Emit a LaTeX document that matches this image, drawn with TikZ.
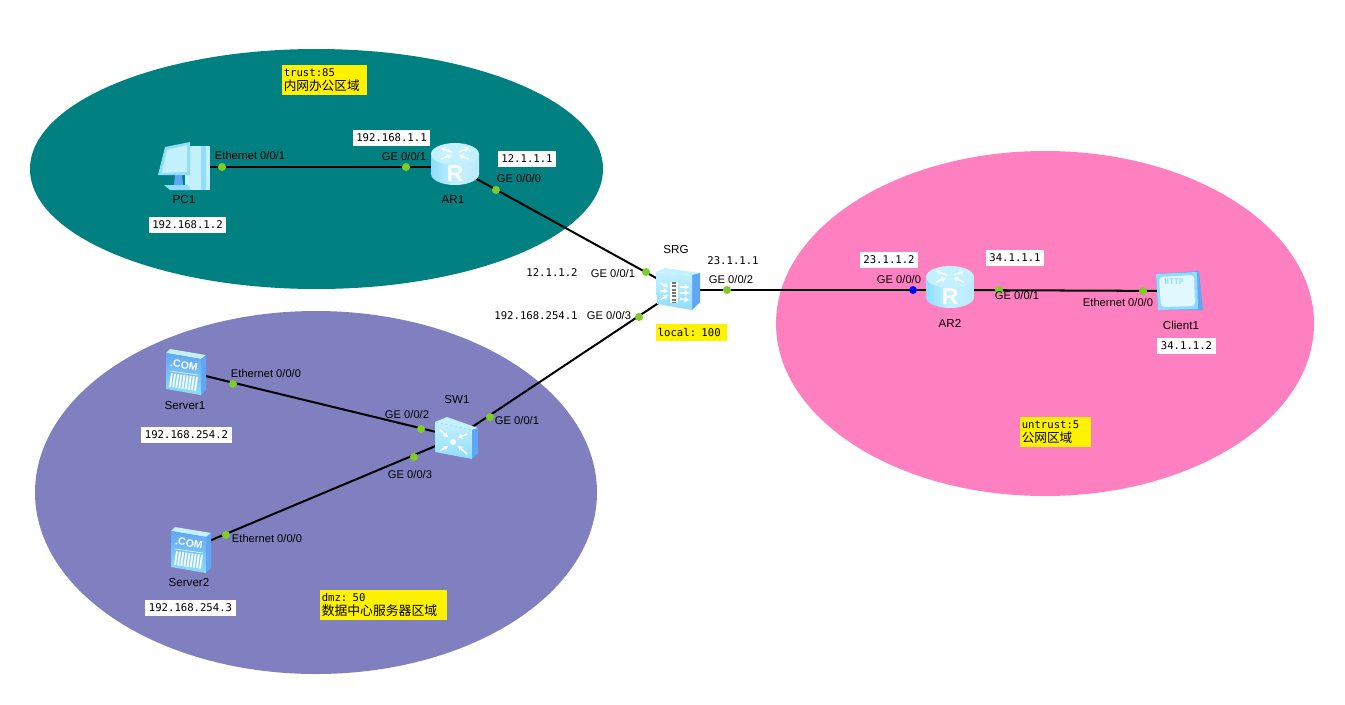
\documentclass[tikz,border=0pt]{standalone}
\usepackage{fontspec}
\setmainfont{Liberation Sans}
\newfontfamily\ipfont{DejaVu Sans Mono}
\newfontfamily\cjkfont{Noto Sans CJK SC}
\usetikzlibrary{arrows.meta}

\definecolor{zoneteal}{HTML}{008080}
\definecolor{zonepurple}{HTML}{8080C0}
\definecolor{zonepink}{HTML}{FF80C0}
\definecolor{iconlight}{HTML}{C4F1FF}
\definecolor{iconmid}{HTML}{8FDDFB}
\definecolor{iconside}{HTML}{5FA6F5}
\definecolor{portgreen}{HTML}{7FCC28}

\tikzset{
  device/.style={inner sep=0pt, minimum size=0.6cm},
  link/.style={line width=1.15pt, black},
  port/.style={circle, fill=portgreen, inner sep=0pt, minimum size=0.16cm},
  portlab/.style={font=\fontsize{6.35}{7.5}\selectfont, inner sep=0pt},
  devlab/.style={font=\fontsize{6.6}{8}\selectfont, inner sep=0pt},
  iplab/.style={font=\ipfont\fontsize{6.05}{8}\selectfont, inner xsep=2pt, inner ysep=0pt, minimum height=0.32cm},
  ipbox/.style={iplab, fill=white},
  zonebox/.style={fill=yellow, font=\ipfont\fontsize{6.05}{8.4}\selectfont, align=left, inner xsep=1pt, inner ysep=0pt, minimum height=0.6cm},
  tip/.style={white, line width=0.9pt, -{Stealth[length=2.6pt,width=3.2pt]}},
  router/.pic={
    \shade[left color=iconmid, right color=iconmid!60!white, middle color=iconlight]
      (-24,-11) -- (-24,9) arc[start angle=180, end angle=0, x radius=24, y radius=11]
      -- (24,-11) arc[start angle=0, end angle=180, x radius=24, y radius=10] -- cycle;
    \fill[iconlight] (0,-11) ellipse[x radius=24, y radius=11];
    \draw[tip] (-3,-13) -- (-14,-17);
    \draw[tip] (4,-13) -- (14,-17);
    \draw[tip] (-14,-6) -- (-4,-10);
    \draw[tip] (14,-6) -- (4,-10);
    \node[white, inner sep=0pt, font=\bfseries\fontsize{13}{13}\selectfont] (-r) at (0,9) {R};
  },
  pcicon/.pic={
    \fill[iconlight] (1,-21) -- (26,-21) -- (26,23) -- (1,23) -- cycle;
    \fill[iconmid] (17,-21) -- (22,-21) -- (22,23) -- (17,23) -- cycle;
    \fill[iconmid] (-19,-20) -- (6,-25) -- (6,8) -- (-26,8) -- cycle;
    \fill[iconlight] (-17,-17) -- (3,-22) -- (3,5) -- (-22,6) -- cycle;
    \fill[iconside] (-9,8) -- (-2,8) -- (-1,18) -- (-10,18) -- cycle;
    \fill[iconmid] (-20,18) -- (4,18) -- (7,23) -- (-14,23) -- cycle;
  },
  servericon/.pic={
    \fill[iconlight] (-19,-18) -- (-15,-22) -- (21,-16) -- (16,-12) -- cycle;
    \fill[iconside] (16,-12) -- (21,-16) -- (21,19) -- (16,24) -- cycle;
    \shade[top color=iconside, bottom color=iconmid] (-19,-18) -- (16,-12) -- (16,24) -- (-19,18) -- cycle;
    \node[white, inner sep=0pt, rotate=-9, font=\bfseries\fontsize{6}{6}\selectfont] (-com) at (-1,-6) {.COM};
    \draw[white, line width=0.3pt] (-15,0) -- (13,4);
    \draw[white!80!iconlight, line width=8pt, dash pattern=on 1.1pt off 0.7pt] (-15,9) -- (13,13);
  },
  firewall/.pic={
    \fill[iconlight] (-22,-18) -- (-13,-22) -- (22,-17) -- (14,-15) -- cycle;
    \fill[iconside] (14,-15) -- (22,-17) -- (22,12) -- (14,20) -- cycle;
    \shade[top color=iconlight, bottom color=iconmid] (-22,-18) -- (14,-15) -- (14,20) -- (-21,14) -- cycle;
    \draw[tip] (-18,-7) -- (-10,-3);
    \draw[tip] (-18,1) -- (-10,1);
    \draw[tip] (-18,10) -- (-10,5);
    \draw[tip] (2,-3) -- (11,-3);
    \draw[tip] (2,3) -- (11,3);
    \draw[tip] (2,9) -- (11,10);
    \fill[white] (-8,-8) rectangle (0,13);
    \draw[black!55, line width=2.6pt, dash pattern=on 1.2pt off 0.7pt] (-4,-8) -- (-4,13);
  },
  switchicon/.pic={
    \fill[iconlight] (-22,-15) -- (-10,-20) -- (21,-9) -- (15,-7) -- cycle;
    \fill[iconside] (15,-7) -- (21,-9) -- (21,16) -- (15,22) -- cycle;
    \shade[top color=iconlight, bottom color=iconmid] (-22,-15) -- (15,-7) -- (15,22) -- (-22,15) -- cycle;
    \fill[white] (-4,5) circle[radius=3];
    \draw[tip] (-17,-7) -- (-9,0);
    \draw[tip] (10,-3) -- (1,1);
    \draw[tip] (-17,14) -- (-9,9);
    \draw[tip] (10,17) -- (1,9);
  },
  clienticon/.pic={
    \fill[iconside] (-23,-17) -- (20,-20) -- (24,19) -- (-21,19) -- cycle;
    \fill[iconmid] (-23,-17) -- (18,-19) -- (19,18) -- (-21,19) -- cycle;
    \fill[iconlight!50!white, rounded corners=2pt] (-20,-14) -- (15,-16) -- (16,15) -- (-18,16) -- cycle;
    \node[iconmid, inner sep=0pt, font=\ipfont\bfseries\fontsize{4.5}{5}\selectfont] (-http) at (-5,-9) {HTTP};
  }
}

\begin{document}
\begin{tikzpicture}[x=0.02cm, y=-0.02cm]

\useasboundingbox (0,0) rectangle (1345,704);

% zones
\fill [zoneteal] (316.5,169) ellipse [x radius=286.5, y radius=120];
\fill [zonepurple] (316,492.5) ellipse [x radius=281, y radius=181.5];
\fill [zonepink] (1045,323.5) ellipse [x radius=269, y radius=172.5];

% devices
\node [device] (PC1) at (184,167) {};
\node [device] (AR1) at (455,167) {};
\node [device] (SRG) at (678,290) {};
\node [device] (AR2) at (950,290) {};
\node [device] (Client1) at (1179,291) {};
\node [device] (SW1) at (457,437) {};
\node [device] (Server1) at (185,371) {};
\node [device] (Server2) at (190,549) {};

% links
\draw [link] (PC1) -- (AR1);
\draw [link] (AR1) -- (SRG);
\draw [link] (SRG) -- (AR2);
\draw [link] (AR2) -- (Client1);
\draw [link] (SRG) -- (SW1);
\draw [link] (Server1) -- (SW1);
\draw [link] (Server2) -- (SW1);

% ports
\node [port] (pc1eth) at (222,167) {};
\node [port] (ar1ge1) at (406,167) {};
\node [port] (ar1ge0) at (496,190) {};
\node [port] (srgge1) at (646,272) {};
\node [port] (srgge3) at (639,317) {};
\node [port] (srgge2) at (727,290) {};
\node [port, fill=blue] (ar2ge0) at (913,290) {};
\node [port] (ar2ge1) at (999,290) {};
\node [port] (clienteth) at (1143,291) {};
\node [port] (sv1eth) at (233,384) {};
\node [port] (swge2) at (421,429) {};
\node [port] (swge3) at (414,457) {};
\node [port] (swge1) at (490,417) {};
\node [port] (sv2eth) at (226,535) {};

% icons
\pic (pc1icon) at (PC1) {pcicon};
\pic (ar1icon) at (455,165) {router};
\pic (srgicon) at (SRG) {firewall};
\pic (ar2icon) at (950,288) {router};
\pic (clicon) at (Client1) {clienticon};
\pic (swicon) at (SW1) {switchicon};
\pic (sv1icon) at (Server1) {servericon};
\pic (sv2icon) at (Server2) {servericon};

% device names
\node [devlab] (pc1name) at (184,200) {PC1};
\node [devlab] (ar1name) at (453,200) {AR1};
\node [devlab] (srgname) at (676,249) {SRG};
\node [devlab] (ar2name) at (950,323) {AR2};
\node [devlab] (clname) at (1181,325) {Client1};
\node [devlab] (swname) at (457,399) {SW1};
\node [devlab] (sv1name) at (185,405) {Server1};
\node [devlab] (sv2name) at (189,582) {Server2};

% port labels
\node [portlab] (l1) at (250,155.5) {Ethernet 0/0/1};
\node [portlab] (l2) at (404,156.5) {GE 0/0/1};
\node [portlab] (l3) at (519,179) {GE 0/0/0};
\node [portlab] (l4) at (613,273.5) {GE 0/0/1};
\node [portlab] (l5) at (609,316) {GE 0/0/3};
\node [portlab] (l6) at (731,280) {GE 0/0/2};
\node [portlab] (l7) at (899,280) {GE 0/0/0};
\node [portlab] (l8) at (1017,296) {GE 0/0/1};
\node [portlab] (l9) at (1118,303) {Ethernet 0/0/0};
\node [portlab] (l10) at (266,374) {Ethernet 0/0/0};
\node [portlab] (l11) at (407,415) {GE 0/0/2};
\node [portlab] (l12) at (410,475) {GE 0/0/3};
\node [portlab] (l13) at (517,421) {GE 0/0/1};
\node [portlab] (l14) at (267,538) {Ethernet 0/0/0};

% addresses
\node [ipbox] (ip1) at (391.5,138) {192.168.1.1};
\node [ipbox] (ip2) at (527,159) {12.1.1.1};
\node [ipbox] (ip3) at (187.5,225) {192.168.1.2};
\node [iplab] (ip4) at (552,273) {12.1.1.2};
\node [iplab] (ip5) at (536,316) {192.168.254.1};
\node [iplab] (ip6) at (733,261) {23.1.1.1};
\node [ipbox] (ip7) at (889,260) {23.1.1.2};
\node [ipbox] (ip8) at (1015,258) {34.1.1.1};
\node [ipbox] (ip9) at (1186.5,346) {34.1.1.2};
\node [ipbox] (ip10) at (186.5,435) {192.168.254.2};
\node [ipbox] (ip11) at (190.5,608) {192.168.254.3};

% zone tags
\node [zonebox, text width=1.63cm] (trusttag) at (324.5,80) {trust:85\\{\cjkfont\fontsize{7.2}{8.4}\selectfont 内网办公区域}};
\node [zonebox, text width=1.35cm] (untrusttag) at (1055.5,432) {untrust:5\\{\cjkfont\fontsize{7.2}{8.4}\selectfont 公网区域}};
\node [zonebox, text width=2.47cm] (dmztag) at (383.5,605) {dmz: 50\\{\cjkfont\fontsize{7.3}{8.4}\selectfont 数据中心服务器区域}};
\node [zonebox, text width=1.35cm, minimum height=0.34cm] (localtag) at (691.5,332.5) {local: 100};

\end{tikzpicture}
\end{document}
